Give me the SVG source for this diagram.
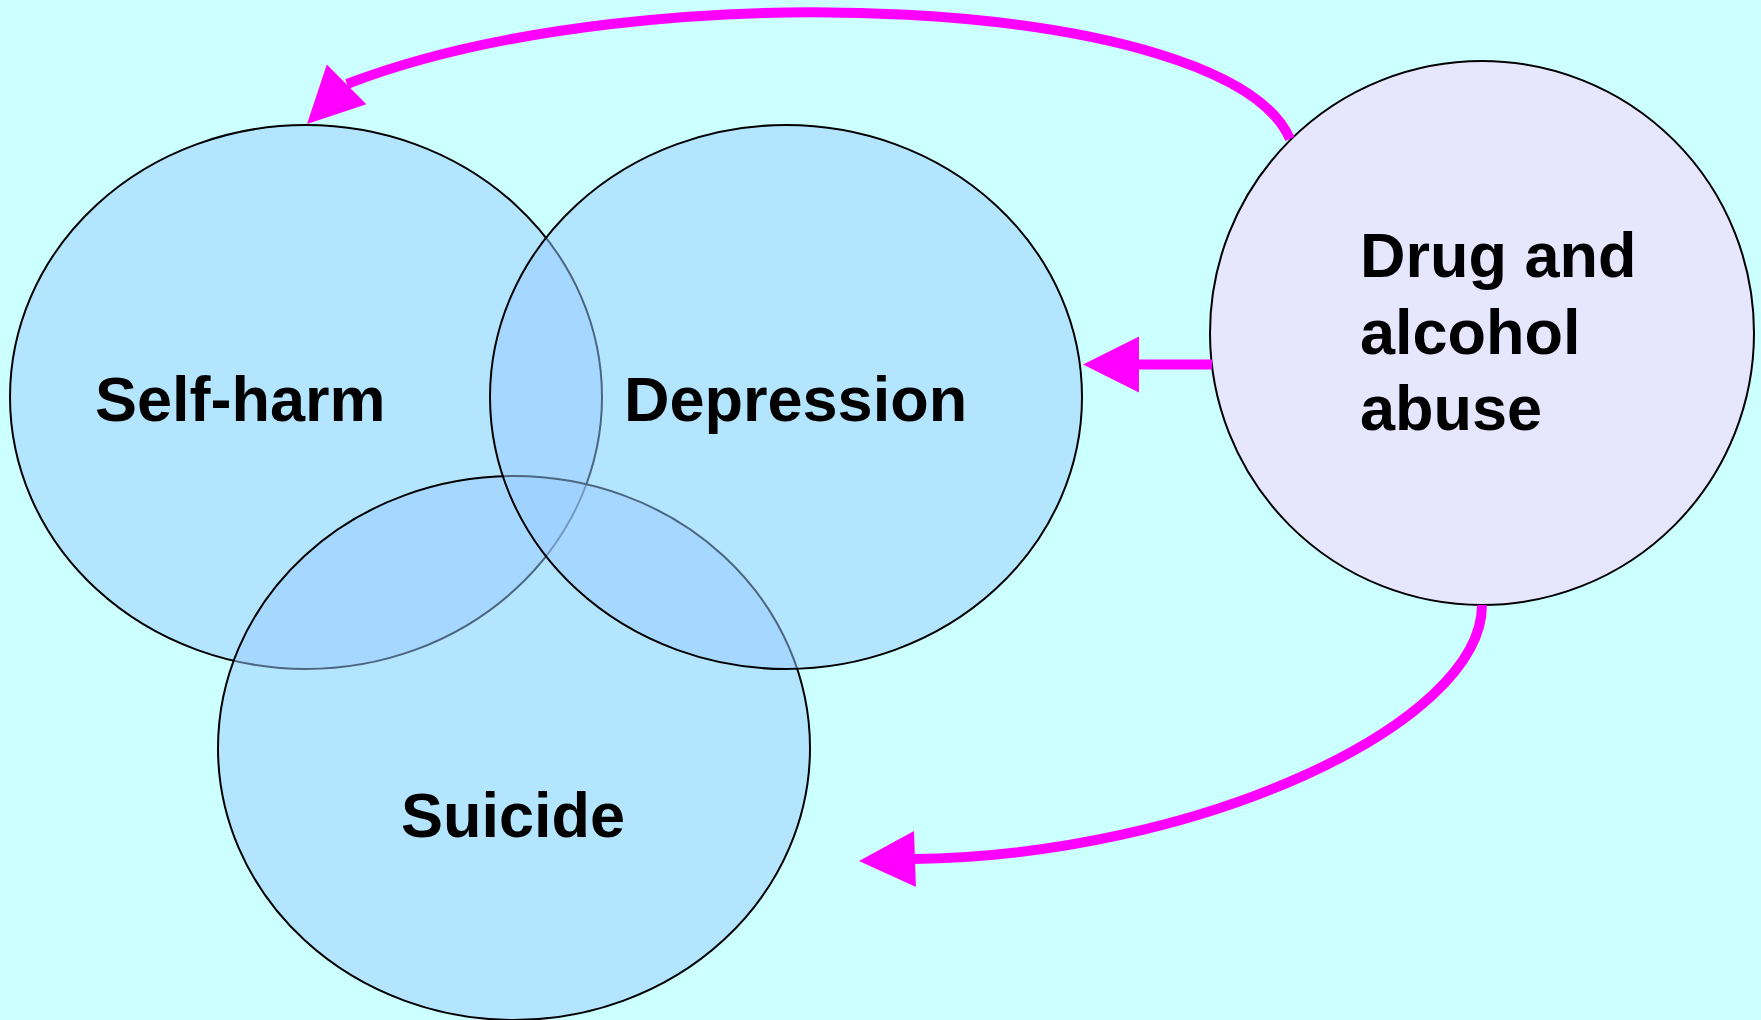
<svg xmlns="http://www.w3.org/2000/svg" xmlns:xlink="http://www.w3.org/1999/xlink" width="1761" height="1020" viewBox="0 0 1761 1020">
  <style>
    .set { fill: #99CCFF; fill-opacity: 0.5; stroke: #000000; stroke-width: 2; }
    .drug { fill: #E6E6FF; stroke: #000000; stroke-width: 2; }
    .label { font-family: "Liberation Sans", Arial, sans-serif; font-weight: bold; font-size: 63px; fill: #000000; }
    .conn { fill: none; stroke: #FF00FF; stroke-width: 10; }
    .head { fill: #FF00FF; stroke: none; }
  </style>
  <defs>
    <path id="arrowhead" class="head" d="M0,0 L-56,-28 L-56,28 Z"/>
  </defs>
  <rect x="0" y="0" width="1761" height="1020" fill="#CCFFFF"/>

  <g id="node-self-harm">
    <ellipse class="set" cx="306" cy="397" rx="296" ry="272"/>
  </g>
  <g id="node-suicide">
    <ellipse class="set" cx="514" cy="748" rx="296" ry="272"/>
  </g>
  <g id="node-depression">
    <ellipse class="set" cx="786" cy="397" rx="296" ry="272"/>
  </g>
  <g id="node-drug">
    <circle class="drug" cx="1482" cy="333" r="272"/>
  </g>

  <g id="labels">
    <text class="label" x="95" y="421">Self-harm</text>
    <text class="label" x="624" y="421">Depression</text>
    <text class="label" x="401" y="837">Suicide</text>
    <text class="label" x="1360" y="277">Drug and</text>
    <text class="label" x="1360" y="354">alcohol</text>
    <text class="label" x="1360" y="430">abuse</text>
  </g>

  <g id="connectors">
    <path class="conn" d="M1290,139 C1228,-4 645,-31 347,84"/>
    <use xlink:href="#arrowhead" href="#arrowhead" transform="translate(307,124) rotate(135)"/>
    <path class="conn" d="M1212,364.5 L1137,364.5"/>
    <use xlink:href="#arrowhead" href="#arrowhead" transform="translate(1083,364.5) rotate(180)"/>
    <path class="conn" d="M1482,605 C1482,725 1195,856 913,859"/>
    <use xlink:href="#arrowhead" href="#arrowhead" transform="translate(859,861) rotate(178)"/>
  </g>
</svg>
